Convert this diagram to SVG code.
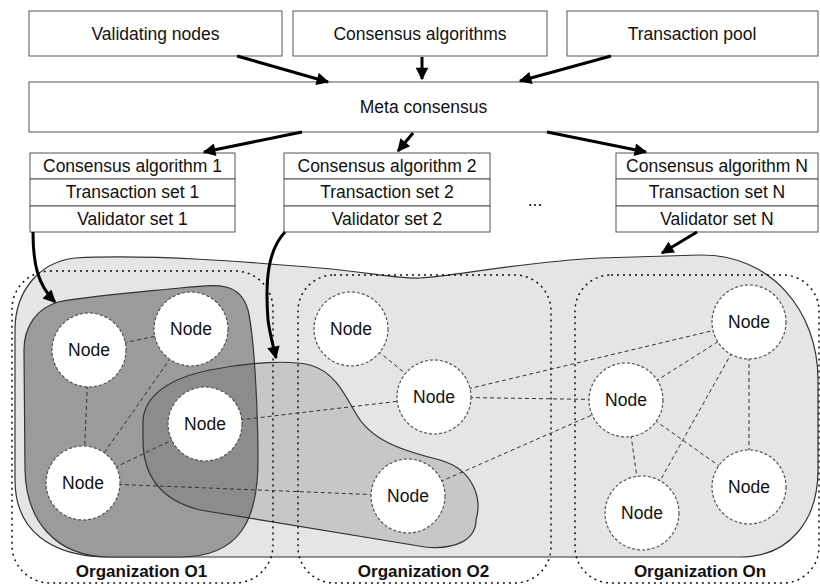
<svg xmlns="http://www.w3.org/2000/svg" width="820" height="586" viewBox="0 0 820 586">
<defs>
<style>
text{font-family:"Liberation Sans",Arial,sans-serif;font-size:17.5px;fill:#111;text-anchor:middle}
.lbl{font-weight:bold;font-size:17px}
.box{fill:#fff;stroke:#555;stroke-width:1}
.arr{fill:none;stroke:#000;stroke-width:3;marker-end:url(#ah)}
.edge{stroke:#333;stroke-width:1;stroke-dasharray:4 3;fill:none}
.node{fill:#fff;stroke:#555;stroke-width:1.2;stroke-dasharray:3 2}
.org{fill:none;stroke:#111;stroke-width:1.5;stroke-dasharray:2 4}
.blob{stroke:#333;stroke-width:1.2}
</style>
<marker id="ah" viewBox="0 0 10 10" refX="9" refY="5" markerWidth="5" markerHeight="4.2" orient="auto">
<path d="M0,0 L10,5 L0,10 Z" fill="#000"/>
</marker>
</defs>
<rect width="820" height="586" fill="#fff"/>

<g id="validating-nodes"><rect class="box" x="29" y="11" width="253" height="45"/><text x="155.5" y="40">Validating nodes</text></g>
<g id="consensus-algorithms"><rect class="box" x="293" y="11" width="254" height="45"/><text x="420" y="40">Consensus algorithms</text></g>
<g id="transaction-pool"><rect class="box" x="567" y="11" width="251" height="45"/><text x="692" y="40">Transaction pool</text></g>
<g id="meta-consensus"><rect class="box" x="29" y="82" width="789" height="50"/><text x="423.5" y="113">Meta consensus</text></g>

<g id="set1">
<rect class="box" x="30" y="153" width="205" height="26"/><text x="132.5" y="172">Consensus algorithm 1</text>
<rect class="box" x="30" y="179" width="205" height="27"/><text x="132.5" y="198">Transaction set 1</text>
<rect class="box" x="30" y="206" width="205" height="26"/><text x="132.5" y="225">Validator set 1</text>
</g>
<g id="set2">
<rect class="box" x="284" y="153" width="206" height="26"/><text x="387" y="172">Consensus algorithm 2</text>
<rect class="box" x="284" y="179" width="206" height="27"/><text x="387" y="198">Transaction set 2</text>
<rect class="box" x="284" y="206" width="206" height="26"/><text x="387" y="225">Validator set 2</text>
</g>
<g id="setN">
<rect class="box" x="616" y="153" width="202" height="26"/><text x="717" y="172">Consensus algorithm N</text>
<rect class="box" x="616" y="179" width="202" height="27"/><text x="717" y="198">Transaction set N</text>
<rect class="box" x="616" y="206" width="202" height="26"/><text x="717" y="225">Validator set N</text>
</g>
<text x="535" y="206">...</text>

<g id="blobs">
<path class="blob" fill="#e5e5e5" d="M75,258 C150,254 250,262 320,268 C370,272 395,279 420,278 C450,277 520,262 600,258 L700,255 C770,254 818,310 818,380 L818,470 C818,520 790,557 740,557 L110,557 C50,557 15,530 15,480 L15,330 C15,290 40,262 75,258 Z"/>
<path class="blob" fill="#9b9b9b" d="M58,302 C90,296 140,292 180,288 C220,284 240,282 248,310 C255,340 258,420 258,460 C258,520 240,557 180,557 L110,557 C55,557 26,520 25,470 L24,350 C24,325 38,308 58,302 Z"/>
<path class="blob" fill="#505050" fill-opacity="0.2" d="M143,420 C145,395 170,378 210,370 C250,362 290,360 310,365 C335,372 345,395 355,412 C370,440 400,450 440,460 C475,470 482,500 476,520 C476,540 455,550 425,547 L200,510 C160,500 143,475 143,440 Z"/>
</g>

<g id="organizations">
<rect class="org" x="12" y="271" width="261" height="312" rx="38"/>
<rect class="org" x="298" y="275" width="253" height="308" rx="36"/>
<rect class="org" x="575" y="275" width="244" height="308" rx="36"/>
<text class="lbl" x="141.5" y="577">Organization O1</text>
<text class="lbl" x="423.5" y="577">Organization O2</text>
<text class="lbl" x="700" y="577">Organization On</text>
</g>

<g id="connectors">
<path class="arr" d="M237,56 L328,82"/>
<path class="arr" d="M422,57 L422,79"/>
<path class="arr" d="M611,56 L520,81"/>
<path class="arr" d="M302,132 L204,152"/>
<path class="arr" d="M413,133 L398,151"/>
<path class="arr" d="M547,132 L646,152"/>
<path class="arr" d="M33,232 C33,265 38,285 55,302"/>
<path class="arr" d="M285,232 C268,250 265,280 268,320 C270,335 273,345 276,358"/>
<path class="arr" d="M697,232 L662,253"/>
<g id="edges">
<line class="edge" x1="89" y1="350" x2="191" y2="329"/>
<line class="edge" x1="89" y1="350" x2="83" y2="483"/>
<line class="edge" x1="191" y1="329" x2="83" y2="483"/>
<line class="edge" x1="83" y1="483" x2="205" y2="424"/>
<line class="edge" x1="83" y1="483" x2="408" y2="496"/>
<line class="edge" x1="205" y1="424" x2="434" y2="397"/>
<line class="edge" x1="351" y1="329" x2="434" y2="397"/>
<line class="edge" x1="434" y1="397" x2="749" y2="322"/>
<line class="edge" x1="434" y1="397" x2="626" y2="400"/>
<line class="edge" x1="408" y1="496" x2="626" y2="400"/>
<line class="edge" x1="626" y1="400" x2="749" y2="322"/>
<line class="edge" x1="626" y1="400" x2="749" y2="487"/>
<line class="edge" x1="626" y1="400" x2="642" y2="513"/>
<line class="edge" x1="749" y1="322" x2="642" y2="513"/>
<line class="edge" x1="749" y1="322" x2="749" y2="487"/>
</g>
</g>

<g id="n1"><circle class="node" cx="89" cy="350" r="37"/><text x="89" y="356">Node</text></g>
<g id="n2"><circle class="node" cx="191" cy="329" r="37"/><text x="191" y="335">Node</text></g>
<g id="n3"><circle class="node" cx="205" cy="424" r="37"/><text x="205" y="430">Node</text></g>
<g id="n4"><circle class="node" cx="83" cy="483" r="37"/><text x="83" y="489">Node</text></g>
<g id="n5"><circle class="node" cx="351" cy="329" r="37"/><text x="351" y="335">Node</text></g>
<g id="n6"><circle class="node" cx="434" cy="397" r="37"/><text x="434" y="403">Node</text></g>
<g id="n7"><circle class="node" cx="408" cy="496" r="37"/><text x="408" y="502">Node</text></g>
<g id="n8"><circle class="node" cx="749" cy="322" r="37"/><text x="749" y="328">Node</text></g>
<g id="n9"><circle class="node" cx="626" cy="400" r="37"/><text x="626" y="406">Node</text></g>
<g id="n10"><circle class="node" cx="749" cy="487" r="37"/><text x="749" y="493">Node</text></g>
<g id="n11"><circle class="node" cx="642" cy="513" r="37"/><text x="642" y="519">Node</text></g>
</svg>
